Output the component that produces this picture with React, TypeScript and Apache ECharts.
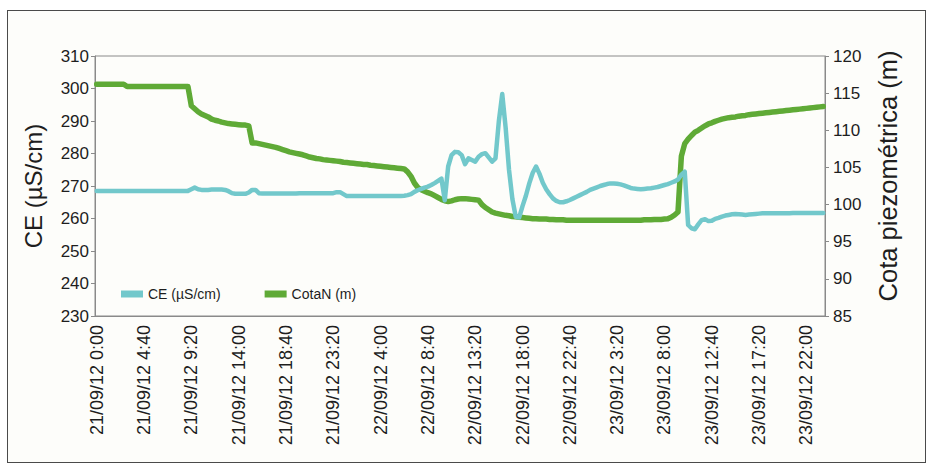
import React, { useEffect, useRef } from "react";
import * as echarts from "echarts";

// Readings every 20 minutes, from 21/09/12 0:00 to 23/09/12 23:40
const START_DAY = 21;
const STEP_MIN = 20;

// Electrical conductivity, µS/cm
const ceValues: number[] = [
  268.5, 268.5, 268.5, 268.5, 268.5, 268.5, 268.5, 268.5, 268.5, 268.5,
  268.5, 268.5, 268.5, 268.5, 268.5, 268.5, 268.5, 268.5, 268.5, 268.5,
  268.5, 268.5, 268.5, 268.5, 268.5, 268.5, 268.5, 268.5, 269.0, 269.5,
  269.0, 268.8, 268.8, 268.8, 268.9, 268.9, 268.9, 268.9, 268.8, 268.4,
  267.8, 267.6, 267.6, 267.6, 267.6, 268.0, 268.8, 268.8, 267.8, 267.7,
  267.7, 267.7, 267.7, 267.7, 267.7, 267.7, 267.7, 267.7, 267.7, 267.7,
  267.8, 267.8, 267.8, 267.8, 267.8, 267.8, 267.8, 267.8, 267.8, 267.8,
  267.8, 268.1, 268.1, 267.5, 266.9, 266.9, 266.9, 266.9, 266.9, 266.9,
  266.9, 266.9, 266.9, 266.9, 266.9, 266.9, 266.9, 266.9, 266.9, 266.9,
  266.9, 267.0, 267.2, 267.5, 268.2, 268.7, 269.1, 269.5, 269.8, 270.3,
  270.9, 271.6, 272.3, 265.6, 276.0, 279.5, 280.5, 280.4, 279.5, 276.7,
  278.5, 278.0, 277.5, 279.0, 279.8, 280.1, 278.8, 277.5, 278.5, 290.0,
  298.3, 288.0, 275.0, 266.0, 260.5, 260.3, 263.8, 267.0, 270.8, 274.0,
  276.0, 273.8, 271.0, 269.0, 267.5, 266.2, 265.4, 265.0, 265.0, 265.3,
  265.7, 266.2, 266.7, 267.2, 267.7, 268.2, 268.8, 269.2, 269.6, 270.0,
  270.3, 270.6, 270.8, 270.8, 270.7, 270.5, 270.2, 269.8, 269.4, 269.2,
  269.1, 269.0, 269.1, 269.2, 269.3, 269.5, 269.7, 270.0, 270.3, 270.6,
  271.0, 271.4, 272.0, 273.5, 274.4, 258.0, 257.0, 256.7, 258.2, 259.5,
  259.8, 259.2, 259.3, 259.9, 260.2, 260.6, 260.9, 261.1, 261.3, 261.4,
  261.3, 261.2, 261.1, 261.2, 261.3, 261.4, 261.5, 261.6, 261.6, 261.6,
  261.6, 261.6, 261.6, 261.6, 261.6, 261.6, 261.7, 261.7, 261.7, 261.7,
  261.7, 261.7, 261.7, 261.7, 261.7, 261.7,
];

// Piezometric level, m
const cotaValues: number[] = [
  116.2, 116.2, 116.2, 116.2, 116.2, 116.2, 116.2, 116.2, 116.2, 115.9,
  115.9, 115.9, 115.9, 115.9, 115.9, 115.9, 115.9, 115.9, 115.9, 115.9,
  115.9, 115.9, 115.9, 115.9, 115.9, 115.9, 115.9, 115.9, 113.3, 112.9,
  112.5, 112.2, 112.0, 111.8, 111.5, 111.35, 111.25, 111.1, 111.0, 110.9,
  110.85, 110.8, 110.75, 110.7, 110.7, 110.6, 108.3, 108.3, 108.2, 108.1,
  108.0, 107.9, 107.8, 107.7, 107.55, 107.4, 107.25, 107.1, 107.0, 106.9,
  106.8, 106.7, 106.55, 106.4, 106.3, 106.2, 106.15, 106.05, 106.0, 105.95,
  105.9, 105.85, 105.8, 105.7, 105.65, 105.6, 105.55, 105.5, 105.45, 105.4,
  105.4, 105.3, 105.25, 105.2, 105.15, 105.1, 105.05, 105.0, 104.95, 104.9,
  104.85, 104.8, 104.4, 103.8, 102.9, 102.3, 102.0, 101.8, 101.6, 101.45,
  101.2, 100.95, 100.7, 100.5, 100.4, 100.5, 100.65, 100.75, 100.8, 100.8,
  100.75, 100.7, 100.65, 100.6, 100.0, 99.6, 99.3, 99.0, 98.85, 98.75,
  98.65, 98.55, 98.5, 98.4, 98.35, 98.3, 98.25, 98.2, 98.15, 98.1,
  98.1, 98.05, 98.05, 98.05, 98.0, 98.0, 97.95, 97.95, 97.95, 97.9,
  97.9, 97.9, 97.9, 97.9, 97.9, 97.9, 97.9, 97.9, 97.9, 97.9,
  97.9, 97.9, 97.9, 97.9, 97.9, 97.9, 97.9, 97.9, 97.9, 97.9,
  97.9, 97.9, 97.95, 97.95, 97.95, 98.0, 98.0, 98.0, 98.05, 98.1,
  98.3, 98.6, 99.0, 106.5, 108.2, 108.8, 109.3, 109.75, 110.0, 110.3,
  110.6, 110.85, 111.0, 111.2, 111.35, 111.5, 111.6, 111.7, 111.75, 111.8,
  111.9, 111.95, 112.0, 112.1, 112.15, 112.2, 112.25, 112.3, 112.35, 112.4,
  112.45, 112.5, 112.55, 112.6, 112.65, 112.7, 112.75, 112.8, 112.85, 112.9,
  112.95, 113.0, 113.05, 113.1, 113.15, 113.2,
];

const seriesNames = ["CE (µS/cm)", "CotaN (m)"];
const axisTitles = ["CE (µS/cm)", "Cota piezométrica (m)"];

// Timestamp of each reading, e.g. "21/09/12 4:40"
const categories: string[] = ceValues.map((_, i) => {
  const total = i * STEP_MIN;
  const day = START_DAY + Math.floor(total / 1440);
  const h = Math.floor((total % 1440) / 60);
  const m = total % 60;
  return `${day}/09/12 ${h}:${m < 10 ? "0" + m : m}`;
});

const FONT = "'Liberation Sans', Arial, sans-serif";
const CE_COLOR = "#72c8cb";
const COTA_COLOR = "#5faa36";
const TEXT = "#1e1e1e";
const AXIS = "#8a8a8a";

export default function App() {
  const ref = useRef<HTMLDivElement>(null);

  useEffect(() => {
    if (!ref.current) return;
    const chart = echarts.init(ref.current, null, { renderer: "svg" });
    chart.setOption({
      animation: false,
      backgroundColor: "transparent",
      textStyle: { fontFamily: FONT },
      grid: {
        left: 95,
        right: 103,
        top: 56,
        bottom: 152,
        show: true,
        borderColor: AXIS,
        borderWidth: 1,
      },
      legend: {
        data: seriesNames,
        left: 116,
        top: 282,
        icon: "rect",
        itemWidth: 22,
        itemHeight: 7,
        itemGap: 44,
        textStyle: { fontFamily: FONT, fontSize: 14, color: TEXT },
      },
      xAxis: {
        type: "category",
        data: categories,
        boundaryGap: true,
        axisLine: { lineStyle: { color: AXIS } },
        axisTick: { show: false },
        axisLabel: {
          interval: 13,
          rotate: 90,
          margin: 9,
          fontFamily: FONT,
          fontSize: 18,
          color: TEXT,
        },
        splitLine: { show: false },
      },
      yAxis: [
        {
          type: "value",
          min: 230,
          max: 310,
          interval: 10,
          position: "left",
          name: axisTitles[0],
          nameLocation: "middle",
          nameRotate: 90,
          nameGap: 50,
          nameTextStyle: { fontFamily: FONT, fontSize: 24, color: TEXT },
          axisLine: { show: true, lineStyle: { color: AXIS } },
          axisTick: { show: true, length: 4, lineStyle: { color: AXIS } },
          axisLabel: { margin: 6, fontFamily: FONT, fontSize: 17, color: TEXT },
          splitLine: { show: false },
        },
        {
          type: "value",
          min: 85,
          max: 120,
          interval: 5,
          position: "right",
          name: axisTitles[1],
          nameLocation: "middle",
          nameRotate: 90,
          nameGap: 50,
          nameTextStyle: {
            fontFamily: FONT,
            fontSize: 25.5,
            color: TEXT,
            padding: [0, 0, 0, 20],
          },
          axisLine: { show: true, lineStyle: { color: AXIS } },
          axisTick: { show: true, length: 4, lineStyle: { color: AXIS } },
          axisLabel: { margin: 8, fontFamily: FONT, fontSize: 17, color: TEXT },
          splitLine: { show: false },
        },
      ],
      series: [
        {
          name: seriesNames[0],
          type: "line",
          yAxisIndex: 0,
          data: ceValues,
          showSymbol: false,
          symbol: "none",
          z: 4,
          color: CE_COLOR,
          lineStyle: { width: 4.5, color: CE_COLOR, join: "round", cap: "round" },
        },
        {
          name: seriesNames[1],
          type: "line",
          yAxisIndex: 1,
          data: cotaValues,
          showSymbol: false,
          symbol: "none",
          z: 3,
          color: COTA_COLOR,
          lineStyle: { width: 5.5, color: COTA_COLOR, join: "round", cap: "round" },
        },
      ],
    });
    return () => chart.dispose();
  }, []);

  return (
    <div
      style={{
        position: "absolute",
        left: 0,
        top: 0,
        width: 928,
        height: 468,
        background: "#ffffff",
      }}
    >
      <div
        style={{
          position: "absolute",
          left: 7,
          top: 10,
          width: 917,
          height: 451,
          border: "1px solid #4a4a4a",
          background: "#fdfdfa",
        }}
      />
      <div
        ref={ref}
        style={{ position: "absolute", left: 0, top: 0, width: 928, height: 468 }}
      />
    </div>
  );
}
